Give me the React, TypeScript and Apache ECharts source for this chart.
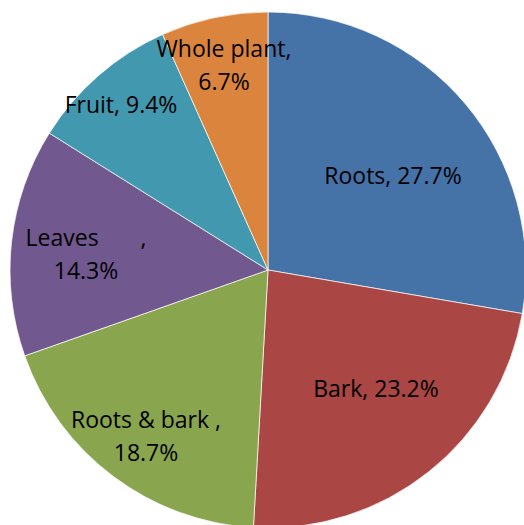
import React, { useEffect, useRef } from "react";
import * as echarts from "echarts";

const categories = ["Roots", "Bark", "Roots & bark", "Leaves", "Fruit", "Whole plant"];
const values = [27.7, 23.2, 18.7, 14.3, 9.4, 6.7];
const colors = ["#4572A7", "#AA4643", "#89A54E", "#71588F", "#4198AF", "#DB843D"];
const labelTemplates = [
  "{n}, {v}%",
  "{n}, {v}%",
  "{n} ,\n{v}%",
  "{n}       ,\n{v}%",
  "{n}, {v}%",
  "{n},\n{v}%",
];
const labelAnchors: [number, number][] = [
  [393, 175],
  [376, 388],
  [146, 435],
  [86, 253],
  [121, 104],
  [224, 64],
];

export default function App() {
  const ref = useRef<HTMLDivElement>(null);
  useEffect(() => {
    document.body.style.margin = "0";
    const chart = echarts.init(ref.current!, undefined, { renderer: "svg" });
    chart.setOption({
      animation: false,
      series: [
        {
          type: "pie",
          center: [268, 270],
          radius: 258,
          startAngle: 90,
          clockwise: true,
          data: categories.map((c, i) => ({
            name: c,
            value: values[i],
            itemStyle: { color: colors[i] },
          })),
          itemStyle: { borderColor: "rgba(255,255,255,0.7)", borderWidth: 1 },
          label: {
            show: true,
            position: "inside",
            color: "#000",
            fontFamily: "Open Sans",
            fontSize: 23,
            lineHeight: 33,
            align: "center",
            formatter: (p: any) =>
              labelTemplates[p.dataIndex]
                .replace("{n}", p.name)
                .replace("{v}", values[p.dataIndex].toFixed(1)),
          },
          labelLine: { show: false },
          labelLayout: (params: any) => ({
            x: labelAnchors[params.dataIndex][0],
            y: labelAnchors[params.dataIndex][1],
            align: "center",
            verticalAlign: "middle",
          }),
          emphasis: { disabled: true },
        },
      ],
    });
    return () => chart.dispose();
  }, []);
  return <div ref={ref} style={{ width: 524, height: 525 }} />;
}
